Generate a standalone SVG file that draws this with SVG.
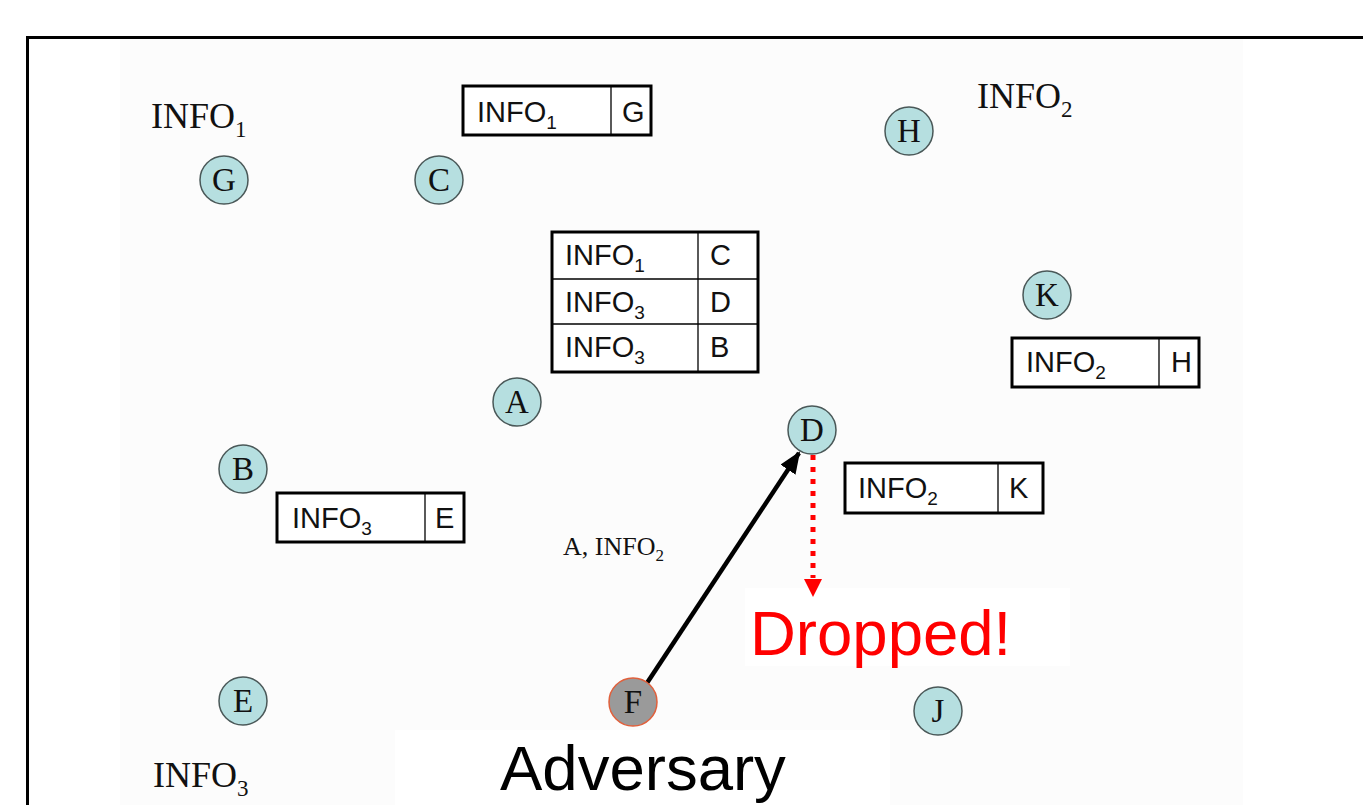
<svg xmlns="http://www.w3.org/2000/svg" width="1363" height="805" viewBox="0 0 1363 805">
<style>
.node{fill:#b6dfe0;stroke:#4a5858;stroke-width:1.5}
.adv{fill:#9a9a9a;stroke:#e0603c;stroke-width:1.5}
.nl{font-family:"Liberation Serif",serif;font-size:33px;fill:#111;text-anchor:middle}
.ser{font-family:"Liberation Serif",serif;fill:#111}
.tb{fill:#fff;stroke:#000;stroke-width:3}
.dv{stroke:#000;stroke-width:1.3}
.tt{font-family:"Liberation Sans",Arial,sans-serif;font-size:29px;fill:#111}
.big{font-family:"Liberation Sans",Arial,sans-serif;font-size:63.5px}
</style>
<defs>
<marker id="ah" markerUnits="userSpaceOnUse" markerWidth="22" markerHeight="18" refX="20" refY="9" orient="auto">
<polygon points="0,0 22,9 0,18" fill="#000"/>
</marker>
</defs>
<rect x="0" y="0" width="1363" height="805" fill="#fff"/>
<rect x="120" y="38" width="1123" height="767" fill="#fcfcfc"/>
<rect x="745" y="588" width="325" height="78" fill="#fff"/>
<rect x="395" y="730" width="495" height="75" fill="#fff"/>
<rect x="27.5" y="37.5" width="1400" height="900" fill="none" stroke="#000" stroke-width="3"/>

<g id="connectors">
<line x1="647" y1="683" x2="799" y2="453" stroke="#000" stroke-width="4.5" marker-end="url(#ah)"/>
<line x1="813" y1="455" x2="813" y2="578" stroke="#ff0000" stroke-width="5" stroke-dasharray="5 7"/>
<polygon points="804,579 822,579 813,597" fill="#ff0000"/>
</g>

<g id="node-G"><circle class="node" cx="224" cy="180" r="24"/><text class="nl" x="224" y="191">G</text></g>
<g id="node-C"><circle class="node" cx="439" cy="180" r="24"/><text class="nl" x="439" y="191">C</text></g>
<g id="node-H"><circle class="node" cx="909" cy="131" r="24"/><text class="nl" x="909" y="142">H</text></g>
<g id="node-K"><circle class="node" cx="1047" cy="295" r="24"/><text class="nl" x="1047" y="306">K</text></g>
<g id="node-A"><circle class="node" cx="517" cy="402" r="24"/><text class="nl" x="517" y="413">A</text></g>
<g id="node-D"><circle class="node" cx="812" cy="430" r="24"/><text class="nl" x="812" y="441">D</text></g>
<g id="node-B"><circle class="node" cx="243" cy="469" r="24"/><text class="nl" x="243" y="480">B</text></g>
<g id="node-E"><circle class="node" cx="243" cy="701" r="24"/><text class="nl" x="243" y="712">E</text></g>
<g id="node-J"><circle class="node" cx="938" cy="711" r="24"/><text class="nl" x="938" y="722">J</text></g>
<g id="node-F"><circle class="adv" cx="633" cy="702" r="24"/><text class="nl" x="633" y="713">F</text></g>

<g id="label-info1"><text class="ser" x="151" y="128" font-size="36">INFO<tspan font-size="23" dy="9">1</tspan></text></g>
<g id="label-info2"><text class="ser" x="977" y="108" font-size="36">INFO<tspan font-size="23" dy="9">2</tspan></text></g>
<g id="label-info3"><text class="ser" x="153" y="787" font-size="36">INFO<tspan font-size="23" dy="9">3</tspan></text></g>
<g id="label-a-info2"><text class="ser" x="563" y="555" font-size="26">A, INFO<tspan font-size="17" dy="6">2</tspan></text></g>

<g id="table-G">
<rect class="tb" x="463" y="86" width="188" height="49"/>
<line class="dv" x1="611" y1="86" x2="611" y2="135"/>
<text class="tt" x="477" y="122">INFO<tspan font-size="19" dy="7">1</tspan></text>
<text class="tt" x="622" y="122">G</text>
</g>

<g id="table-A">
<rect class="tb" x="552" y="232" width="206" height="140"/>
<line class="dv" x1="552" y1="279" x2="758" y2="279"/>
<line class="dv" x1="552" y1="324" x2="758" y2="324"/>
<line class="dv" x1="698" y1="232" x2="698" y2="372"/>
<text class="tt" x="565" y="265">INFO<tspan font-size="19" dy="7">1</tspan></text>
<text class="tt" x="710" y="265">C</text>
<text class="tt" x="565" y="312">INFO<tspan font-size="19" dy="7">3</tspan></text>
<text class="tt" x="710" y="312">D</text>
<text class="tt" x="565" y="357">INFO<tspan font-size="19" dy="7">3</tspan></text>
<text class="tt" x="710" y="357">B</text>
</g>

<g id="table-B">
<rect class="tb" x="277" y="493" width="187" height="49"/>
<line class="dv" x1="425" y1="493" x2="425" y2="542"/>
<text class="tt" x="292" y="528">INFO<tspan font-size="19" dy="7">3</tspan></text>
<text class="tt" x="435" y="528">E</text>
</g>

<g id="table-K">
<rect class="tb" x="1012" y="338" width="187" height="49"/>
<line class="dv" x1="1159" y1="338" x2="1159" y2="387"/>
<text class="tt" x="1026" y="372">INFO<tspan font-size="19" dy="7">2</tspan></text>
<text class="tt" x="1171" y="372">H</text>
</g>

<g id="table-D">
<rect class="tb" x="845" y="463" width="198" height="50"/>
<line class="dv" x1="998" y1="463" x2="998" y2="513"/>
<text class="tt" x="858" y="498">INFO<tspan font-size="19" dy="7">2</tspan></text>
<text class="tt" x="1009" y="498">K</text>
</g>

<g id="label-dropped"><text class="big" x="750" y="655" fill="#ff0000">Dropped!</text></g>
<g id="label-adversary"><text class="big" x="500" y="790" fill="#000">Adversary</text></g>
</svg>
